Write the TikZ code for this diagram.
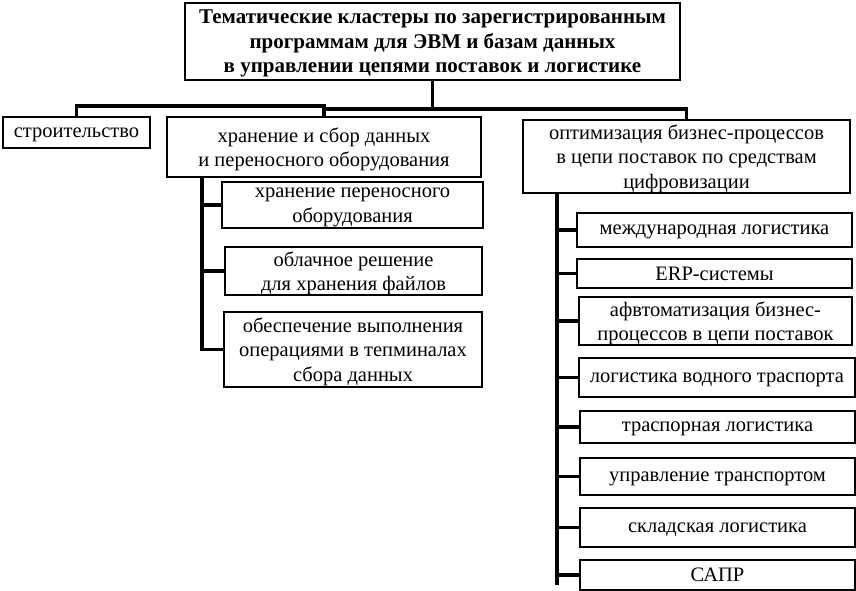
\documentclass[tikz,border=0pt]{standalone}
\usepackage{fontspec}
\setmainfont{Liberation Serif}
\usetikzlibrary{positioning}

\begin{document}
\begin{tikzpicture}[x=1pt,y=-1pt]
\tikzstyle{box}=[draw, line width=1.3pt, align=center, inner sep=0pt, text depth=0pt, font=\fontsize{20.5}{24.5}\selectfont]
\tikzstyle{link}=[line width=3.6pt]
\useasboundingbox (0,0) rectangle (856,591);
% top
\node [box, font=\fontsize{21}{24.5}\selectfont\bfseries, minimum width=495, minimum height=77] (title) at (432.5,41.5)
  {Тематические кластеры по зарегистрированным\\программам для ЭВМ и базам данных\\в управлении цепями поставок и логистике};
% first level
\node [box, minimum width=147, minimum height=31] (stroit) at (76.5,132.5) {строительство};
\node [box, minimum width=314, minimum height=60] (hran) at (324,147)
  {хранение и сбор данных\\и переносного оборудования};
\node [box, minimum width=327, minimum height=73] (optim) at (686.5,156.5)
  {оптимизация бизнес-процессов\\в цепи поставок по средствам\\цифровизации};
% storage group
\node [box, minimum width=261, minimum height=46] (hran1) at (352.5,205) {хранение переносного\\оборудования};
\node [box, minimum width=257, minimum height=48] (hran2) at (353.5,271) {облачное решение\\для хранения файлов};
\node [box, minimum width=258, minimum height=75] (hran3) at (353,349.5) {обеспечение выполнения\\операциями в тепминалах\\сбора данных};
% optimisation group
\node [box, minimum width=275, minimum height=34] (opt1) at (714.5,230) {международная логистика};
\node [box, minimum width=275, minimum height=29] (opt2) at (714.5,273.5) {ERP-системы};
\node [box, minimum width=273, minimum height=48] (opt3) at (715.5,321) {афвтоматизация бизнес-\\процессов в цепи поставок};
\node [box, minimum width=276, minimum height=39] (opt4) at (717,377.5) {логистика водного траспорта};
\node [box, minimum width=275, minimum height=32] (opt5) at (717.5,427) {траспорная логистика};
\node [box, minimum width=275, minimum height=37] (opt6) at (717.5,476.5) {управление транспортом};
\node [box, minimum width=275, minimum height=39] (opt7) at (717.5,527.5) {складская логистика};
\node [box, minimum width=275, minimum height=30] (opt8) at (717.5,575) {САПР};
% connectors
\coordinate (lvlA) at (0,106);
\coordinate (lvlB) at (0,109);
\draw [link] (title.south) -- (title.south |- lvlB);
\draw [link] (stroit.north) |- (hran.north |- lvlA) -- (hran.north);
\draw [link] (hran.north |- lvlB) -| (optim.north);
\coordinate (hbus) at (202,177);
\draw [link] (hbus) |- (hran3.west);
\foreach \n in {hran1,hran2}
  \draw [link] (hbus |- \n.west) -- (\n.west);
\coordinate (obus) at (557,193);
\draw [link] (obus) -- ++(0,392);
\foreach \n in {opt1,opt2,opt3,opt4,opt5,opt6,opt7,opt8}
  \draw [link] (obus |- \n.west) -- (\n.west);
\end{tikzpicture}
\end{document}
